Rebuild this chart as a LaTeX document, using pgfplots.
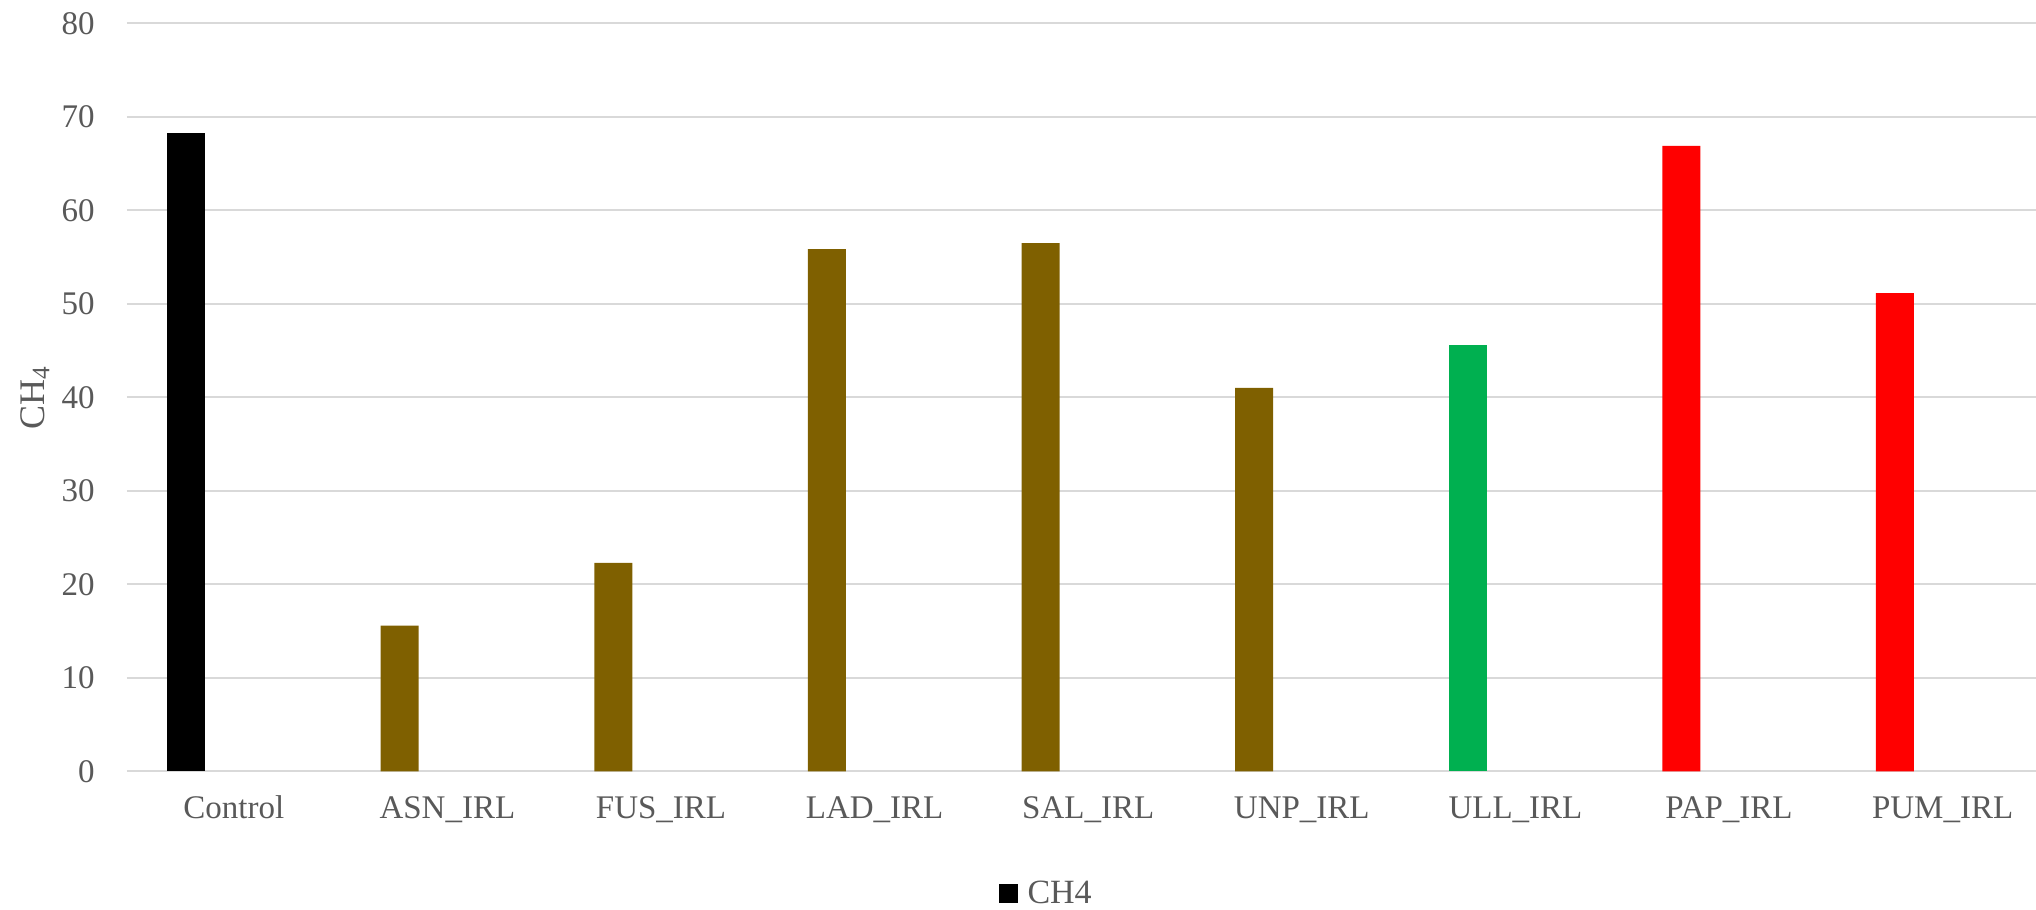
\documentclass[border=0pt]{standalone}
\usepackage{pgfplots}
\pgfplotsset{compat=1.18}
\usepackage{fontspec}
\setmainfont{Liberation Serif}
\definecolor{brownbar}{HTML}{7F6000}
\definecolor{greenbar}{HTML}{00B050}
\definecolor{redbar}{HTML}{FF0000}
\definecolor{gridgray}{HTML}{D9D9D9}
\definecolor{textgray}{HTML}{595959}
\begin{document}
\begin{tikzpicture}
\begin{axis}[
  at={(0,0)}, anchor=south west,
  scale only axis, width=954.5pt, height=374pt,
  xmin=-0.5, xmax=8.437, ymin=0, ymax=80,
  ytick={0,10,...,80},
  xtick={0,...,8},
  xticklabels={Control,ASN\_IRL,FUS\_IRL,LAD\_IRL,SAL\_IRL,UNP\_IRL,ULL\_IRL,PAP\_IRL,PUM\_IRL},
  ymajorgrids, major grid style={draw=gridgray, line width=1pt},
  axis line style={draw=none},
  tick style={draw=none},
  /pgf/number format/assume math mode=true,
  yticklabel style={anchor=east, inner sep=0pt, xshift=-16pt, text=textgray, font=\fontsize{16.5}{19}\selectfont},
  xticklabel style={anchor=base, inner sep=0pt, yshift=-23.5pt, text=textgray, font=\fontsize{16.5}{19}\selectfont},
  ylabel={CH\textsubscript{4}},
  ylabel style={at={(axis description cs:-0.0482,0.5)}, anchor=center, inner sep=0pt, text=textgray, font=\fontsize{18}{21}\selectfont},
  legend style={at={(axis description cs:0.482,-0.164)}, anchor=center, draw=none, fill=none, text=textgray, font=\fontsize{17}{20}\selectfont, inner sep=0pt},
]
\addplot[ybar, bar width=19pt, bar shift=-23.85pt, fill=black, draw=none, forget plot] coordinates {(0,68.27)};
\addplot[ybar, bar width=19pt, bar shift=-23.85pt, fill=brownbar, draw=none, forget plot] coordinates {(1,15.57) (2,22.28) (3,55.86) (4,56.5) (5,41.0)};
\addplot[ybar, bar width=19pt, bar shift=-23.85pt, fill=greenbar, draw=none, forget plot] coordinates {(6,45.6)};
\addplot[ybar, bar width=19pt, bar shift=-23.85pt, fill=redbar, draw=none, forget plot] coordinates {(7,66.88) (8,51.15)};
\addlegendimage{legend image code/.code={\fill[black,draw=none] (0pt,-4.75pt) rectangle (9.5pt,4.75pt); \path[draw=none,fill=none] (9.5pt,0pt) -- (12.5pt,0pt);}}
\addlegendentry{CH4}
\end{axis}
\pgfresetboundingbox
\path (-63.5pt,-69.35pt) rectangle (954.5pt,385.65pt);
\end{tikzpicture}
\end{document}
